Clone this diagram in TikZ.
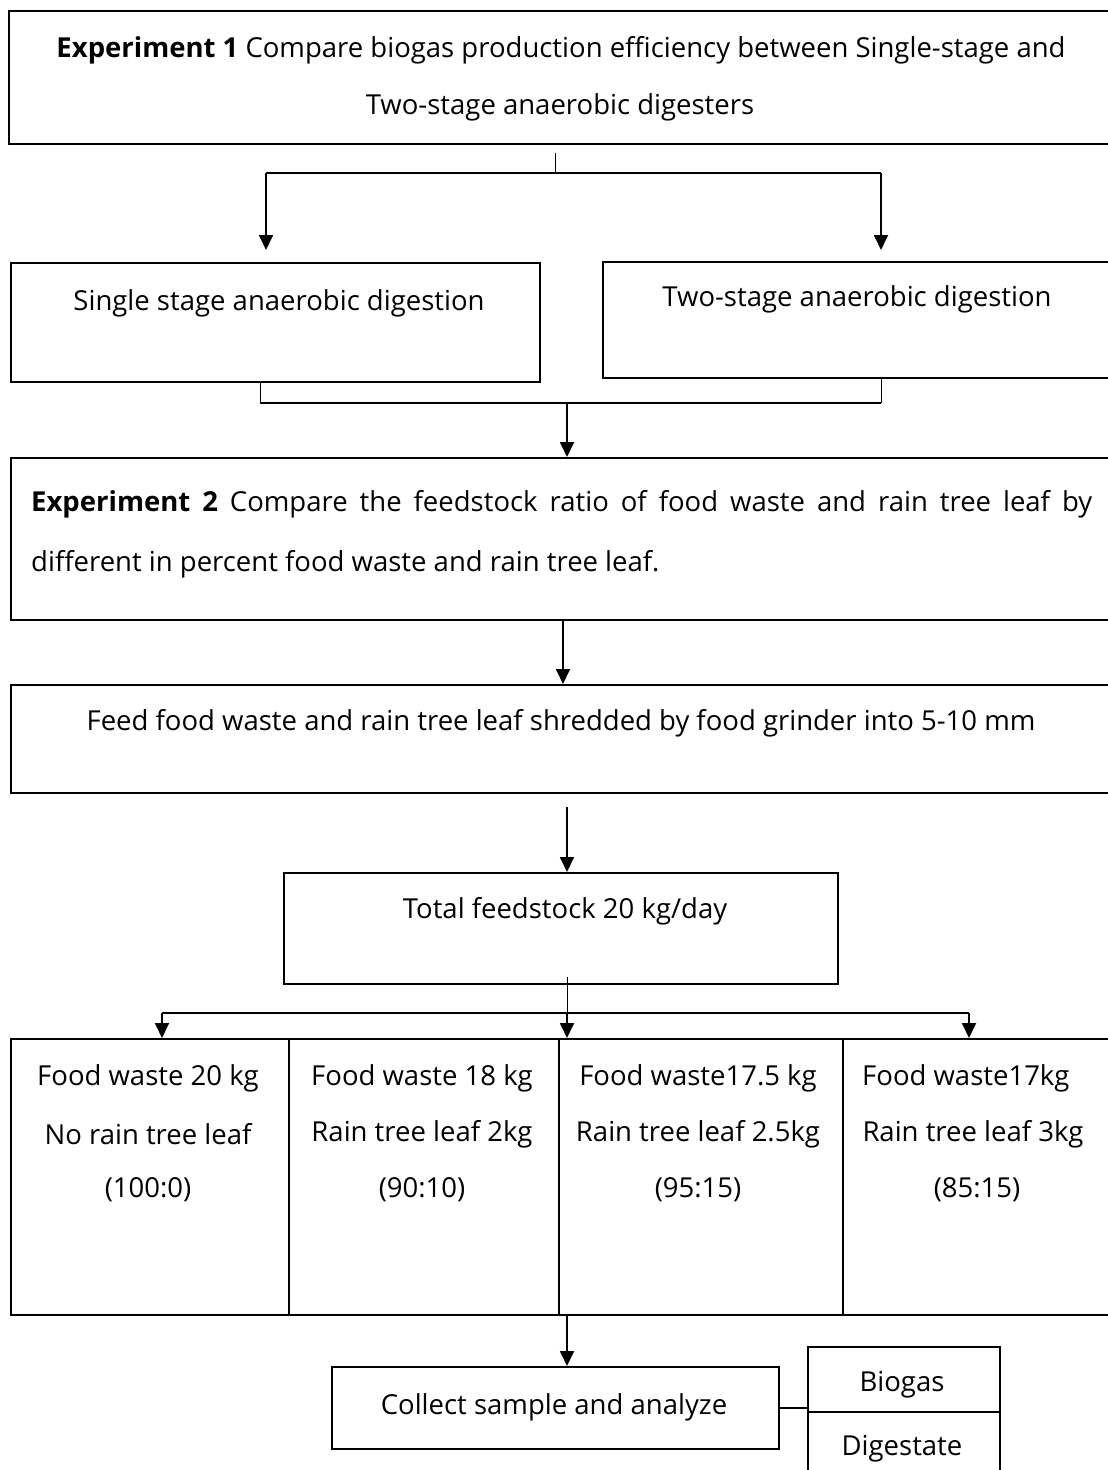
\documentclass[tikz,border=0pt]{standalone}
\usepackage{fontspec}
\setmainfont{Open Sans}
\usetikzlibrary{arrows.meta}
\begin{document}
\begin{tikzpicture}[x=1pt,y=-1pt,
  box/.style={draw=black,line width=1.6pt,anchor=north west,inner sep=0pt},
  txt/.style={inner sep=0pt,font=\fontsize{27.5}{32}\selectfont},
  conn/.style={line width=2pt},
  thin/.style={line width=0.9pt},
  arr/.style={line width=1.8pt,-{Triangle[length=15pt,width=14pt]}}]
\useasboundingbox (0,0) rectangle (1108,1470);
% boxes
\node[box,minimum width=1107pt,minimum height=133pt] (b1) at (8,10) {};
\node[box,minimum width=529pt,minimum height=119pt] (bs) at (10,262) {};
\node[box,minimum width=513pt,minimum height=116pt] (bt) at (602,261) {};
\node[box,minimum width=1105pt,minimum height=162pt] (b2) at (10,457) {};
\node[box,minimum width=1105pt,minimum height=108pt] (bf) at (10,684) {};
\node[box,minimum width=554pt,minimum height=111pt] (btot) at (283,872) {};
\node[box,minimum width=278pt,minimum height=276pt] (c1) at (10,1038) {};
\node[box,minimum width=270pt,minimum height=276pt] (c2) at (288,1038) {};
\node[box,minimum width=284pt,minimum height=276pt] (c3) at (558,1038) {};
\node[box,minimum width=273pt,minimum height=276pt] (c4) at (842,1038) {};
\node[box,minimum width=447pt,minimum height=82pt] (coll) at (331,1366) {};
\node[box,minimum width=192pt,minimum height=65pt] (bio) at (807,1346) {};
\node[box,minimum width=192pt,minimum height=70pt] (dig) at (807,1411) {};
% texts
\node[txt] (t1a) at (561,50) {\textbf{Experiment 1} Compare biogas production efficiency between Single-stage and};
\node[txt] (t1b) at (560,107) {Two-stage anaerobic digesters};
\node[txt] (ts) at (279,303) {Single stage anaerobic digestion};
\node[txt] (tt) at (857,299) {Two-stage anaerobic digestion};
\node[txt,anchor=north west] (t2) at (31,490) {\parbox{1061pt}{\fontsize{27.5}{60}\selectfont\textbf{Experiment 2} Compare the feedstock ratio of food waste and rain tree leaf by\linebreak different in percent food waste and rain tree leaf.}};
\node[txt] (tf) at (561,723) {Feed food waste and rain tree leaf shredded by food grinder into 5-10 mm};
\node[txt] (ttot) at (565,911) {Total feedstock 20 kg/day};
\node[txt] (c1a) at (148,1078) {Food waste 20 kg};
\node[txt] (c1b) at (148,1134) {No rain tree leaf};
\node[txt] (c1c) at (148,1190) {(100:0)};
\node[txt] (c2a) at (422,1078) {Food waste 18 kg};
\node[txt] (c2b) at (422,1134) {Rain tree leaf 2kg};
\node[txt] (c2c) at (422,1190) {(90:10)};
\node[txt] (c3a) at (698,1078) {Food waste17.5 kg};
\node[txt] (c3b) at (698,1134) {Rain tree leaf 2.5kg};
\node[txt] (c3c) at (698,1190) {(95:15)};
\node[txt,anchor=west] (c4a) at (862,1078) {Food waste17kg};
\node[txt] (c4b) at (973,1134) {Rain tree leaf 3kg};
\node[txt] (c4c) at (977,1190) {(85:15)};
\node[txt] (tcoll) at (554,1407) {Collect sample and analyze};
\node[txt] (tbio) at (902,1385) {Biogas};
\node[txt] (tdig) at (902,1449) {Digestate};
% connector coordinates
\coordinate (s1) at (555,153);
\coordinate (s1j) at (555,173);
\coordinate (s1l) at (266,173);
\coordinate (s1r) at (881,173);
\coordinate (s1le) at (266,250);
\coordinate (s1re) at (881,250);
\coordinate (m1) at (260,381);
\coordinate (m1l) at (260,403);
\coordinate (m1r) at (881,403);
\coordinate (m2) at (881,377);
\coordinate (m1c) at (567,403);
\coordinate (a2s) at (563,621);
\coordinate (a2e) at (563,684);
\coordinate (a3s) at (567,807);
\coordinate (a3e) at (567,872);
\coordinate (f0) at (567,977);
\coordinate (fj) at (567,1013);
\coordinate (fl) at (162,1013);
\coordinate (fr) at (969,1013);
\coordinate (fle) at (162,1038);
\coordinate (fce) at (567,1038);
\coordinate (fre) at (969,1038);
\coordinate (a5s) at (567,1316);
\coordinate (a5e) at (567,1366);
% connectors
\draw[thin] (s1) -- (s1j);
\draw[conn] (s1l) -- (s1r);
\draw[arr] (s1l) -- (s1le);
\draw[arr] (s1r) -- (s1re);
\draw[thin] (m1) -- (m1l);
\draw[conn] (m1l) -- (m1r);
\draw[thin] (m1r) -- (m2);
\draw[arr] (m1c) -- (b2.north -| m1c);
\draw[arr] (a2s) -- (a2e);
\draw[arr] (a3s) -- (a3e);
\draw[thin] (f0) -- (fj);
\draw[conn] (fl) -- (fr);
\draw[arr] (fl) -- (fle);
\draw[arr] (fj) -- (fce);
\draw[arr] (fr) -- (fre);
\draw[arr] (a5s) -- (a5e);
\draw[conn] (coll.east) -- (coll.east -| bio.west);
\end{tikzpicture}
\end{document}
